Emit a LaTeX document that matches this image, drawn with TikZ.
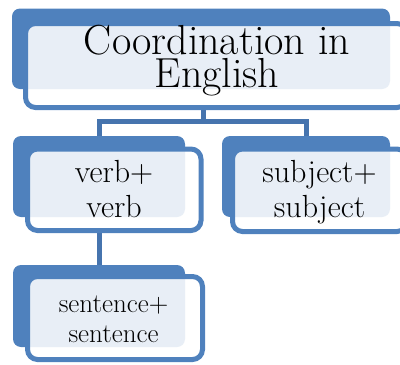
\documentclass[tikz,border=0pt]{standalone}
\usetikzlibrary{backgrounds}
\definecolor{accent}{HTML}{4F81BD}
\definecolor{linkblue}{HTML}{4674AE}
\tikzset{
  backbox/.style={fill=accent, draw=none, rounded corners=8pt, inner sep=0pt, outer sep=0pt},
  frontbox/.style={draw=accent, line width=5pt, fill=white, fill opacity=0.87,
                   rounded corners=10pt, inner sep=0pt, outer sep=0pt},
  link/.style={draw=linkblue, line width=5pt},
  txt/.style={anchor=center, align=center, inner sep=0pt, text=black},
  bigtxt/.style={txt, font=\fontsize{42}{33}\selectfont},
  midtxt/.style={txt, font=\fontsize{32}{35}\selectfont},
  smalltxt/.style={txt, font=\fontsize{27}{30}\selectfont}
}
\begin{document}
\begin{tikzpicture}[x=1pt, y=-1pt]
  \useasboundingbox (0,0) rectangle (400,365);
  \clip (0,0) rectangle (400,365);

  % back plates
  \node[backbox, minimum width=378pt, minimum height=80.5pt] (topback) at (201,48.75) {};
  \node[backbox, minimum width=172pt, minimum height=81pt] (lback) at (99,176.5) {};
  \node[backbox, minimum width=168pt, minimum height=81pt] (rback) at (306,176.5) {};
  \node[backbox, minimum width=172pt, minimum height=82pt] (bback) at (99,306) {};

  % front boxes
  \node[frontbox, minimum width=381.5pt, minimum height=84pt] (topfront) at (216.25,65.5) {};
  \node[frontbox, minimum width=173.5pt, minimum height=81.5pt] (lfront) at (114.25,189.75) {};
  \node[frontbox, minimum width=174.5pt, minimum height=82.5pt] (rfront) at (319.75,190.25) {};
  \node[frontbox, minimum width=175pt, minimum height=83pt] (bfront) at (115,318) {};

  % connectors, kept behind the boxes
  \begin{scope}[on background layer]
    \coordinate (hub) at (203,121);
    \draw[link] (hub |- topfront.south) -- (hub);
    \draw[link] (lback.north) |- (hub) -| (rback.north);
    \draw[link] (bback.north |- lfront.south) -- (bback.north);
  \end{scope}

  % texts
  \node[bigtxt] (ttl) at (217,61) {Coordination in\\English};
  \node[midtxt] (ltx) at (114,189.5) {verb+\\verb};
  \node[midtxt] (rtx) at (319.5,192) {subject+\\subject};
  \node[smalltxt] (btx) at (113.5,319.7) {sentence+\\sentence};
\end{tikzpicture}
\end{document}
